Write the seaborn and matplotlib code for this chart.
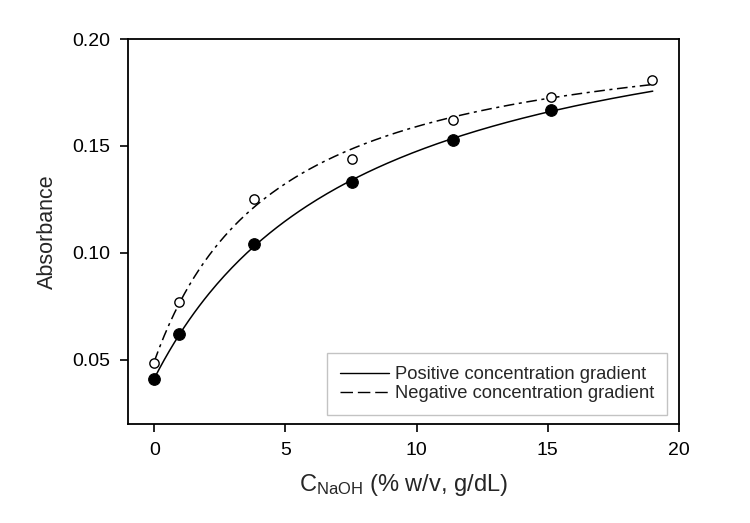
import numpy as np
import pandas as pd
import matplotlib
matplotlib.use("Agg")
import matplotlib.pyplot as plt
from matplotlib.lines import Line2D
import seaborn as sns

# Data
conc_pos = [0.0, 0.96, 3.8, 7.55, 11.37, 15.13]
abs_pos = [0.041, 0.062, 0.104, 0.133, 0.153, 0.167]
conc_neg = [0.0, 0.96, 3.8, 7.55, 11.37, 15.13, 18.97]
abs_neg = [0.0485, 0.077, 0.125, 0.144, 0.162, 0.173, 0.181]
fit_end_pos = 19.0   # end of fitted solid curve
fit_end_neg = 19.0
x_ticks = [0, 5, 10, 15, 20]
y_ticks = [0.05, 0.10, 0.15, 0.20]
labels = ["Positive concentration gradient", "Negative concentration gradient"]


def fit_hyperbola(x, y):
    """Least-squares fit of y = y0 + a*x/(b + x) (hyperbolic rise to max)."""
    x = np.asarray(x, float)
    y = np.asarray(y, float)
    best = None
    for b in np.linspace(0.5, 40, 4000):
        A = np.column_stack([np.ones_like(x), x / (b + x)])
        coef, *_ = np.linalg.lstsq(A, y, rcond=None)
        r = np.sum((A @ coef - y) ** 2)
        if best is None or r < best[0]:
            best = (r, coef, b)
    _, (y0, a), b = best
    return lambda t: y0 + a * t / (b + t)


sns.set_style("ticks")
plt.rcParams["font.family"] = ["Liberation Sans", "DejaVu Sans"]
plt.rcParams["mathtext.fontset"] = "custom"
plt.rcParams["mathtext.rm"] = "Liberation Sans"
plt.rcParams["mathtext.it"] = "Liberation Sans:italic"

fig = plt.figure(figsize=(7.5, 5.23), dpi=100)
ax = fig.add_axes([0.1707, 0.1893, 0.9053 - 0.1707, 0.9254 - 0.1893])

f_pos = fit_hyperbola(conc_pos, abs_pos)
f_neg = fit_hyperbola(conc_neg, abs_neg)
xs_pos = np.linspace(0, fit_end_pos, 200)
xs_neg = np.linspace(0, fit_end_neg, 200)
df_fit_pos = pd.DataFrame({"x": xs_pos, "y": f_pos(xs_pos)})
df_fit_neg = pd.DataFrame({"x": xs_neg, "y": f_neg(xs_neg)})

sns.lineplot(data=df_fit_pos, x="x", y="y", ax=ax, color="black", lw=1.1)
sns.lineplot(data=df_fit_neg, x="x", y="y", ax=ax, color="black", lw=1.1)
ax.lines[-1].set_dashes((7, 3, 2, 3))

sns.scatterplot(x=conc_pos, y=abs_pos, ax=ax, color="black", s=70,
                edgecolor="black", linewidth=0.8, zorder=5)
sns.scatterplot(x=conc_neg, y=abs_neg, ax=ax, facecolor="white", s=45,
                edgecolor="black", linewidth=1.0, zorder=5)

ax.set_xlim(-1, 20)
ax.set_ylim(0.02, 0.20)
ax.set_xticks(x_ticks)
ax.set_xticklabels([str(v) for v in x_ticks])
ax.set_yticks(y_ticks)
ax.set_yticklabels([f"{v:.2f}" for v in y_ticks])
ax.tick_params(direction="out", length=6, width=1.2, labelsize=14,
               color="black", labelcolor="black", pad=7)
for s in ax.spines.values():
    s.set_visible(True)
    s.set_linewidth(1.3)
    s.set_color("black")

ax.set_xlabel(r"C$_{\mathrm{NaOH}}$ (% w/v, g/dL)", fontsize=17, labelpad=9)
ax.set_ylabel("Absorbance", fontsize=15.5, labelpad=10)

handles = [Line2D([], [], color="black", lw=1.0),
           Line2D([], [], color="black", lw=1.0, dashes=(9, 3.5))]
leg = ax.legend(handles, labels, loc="lower right", fontsize=13.2,
                frameon=True, fancybox=False, handlelength=2.7,
                handletextpad=0.3, borderpad=0.7, labelspacing=0.12,
                borderaxespad=0, bbox_to_anchor=(0.978, 0.023))
leg.get_frame().set_edgecolor("#b5b5b5")
leg.get_frame().set_linewidth(1.0)

fig.savefig("out.png", dpi=100)
